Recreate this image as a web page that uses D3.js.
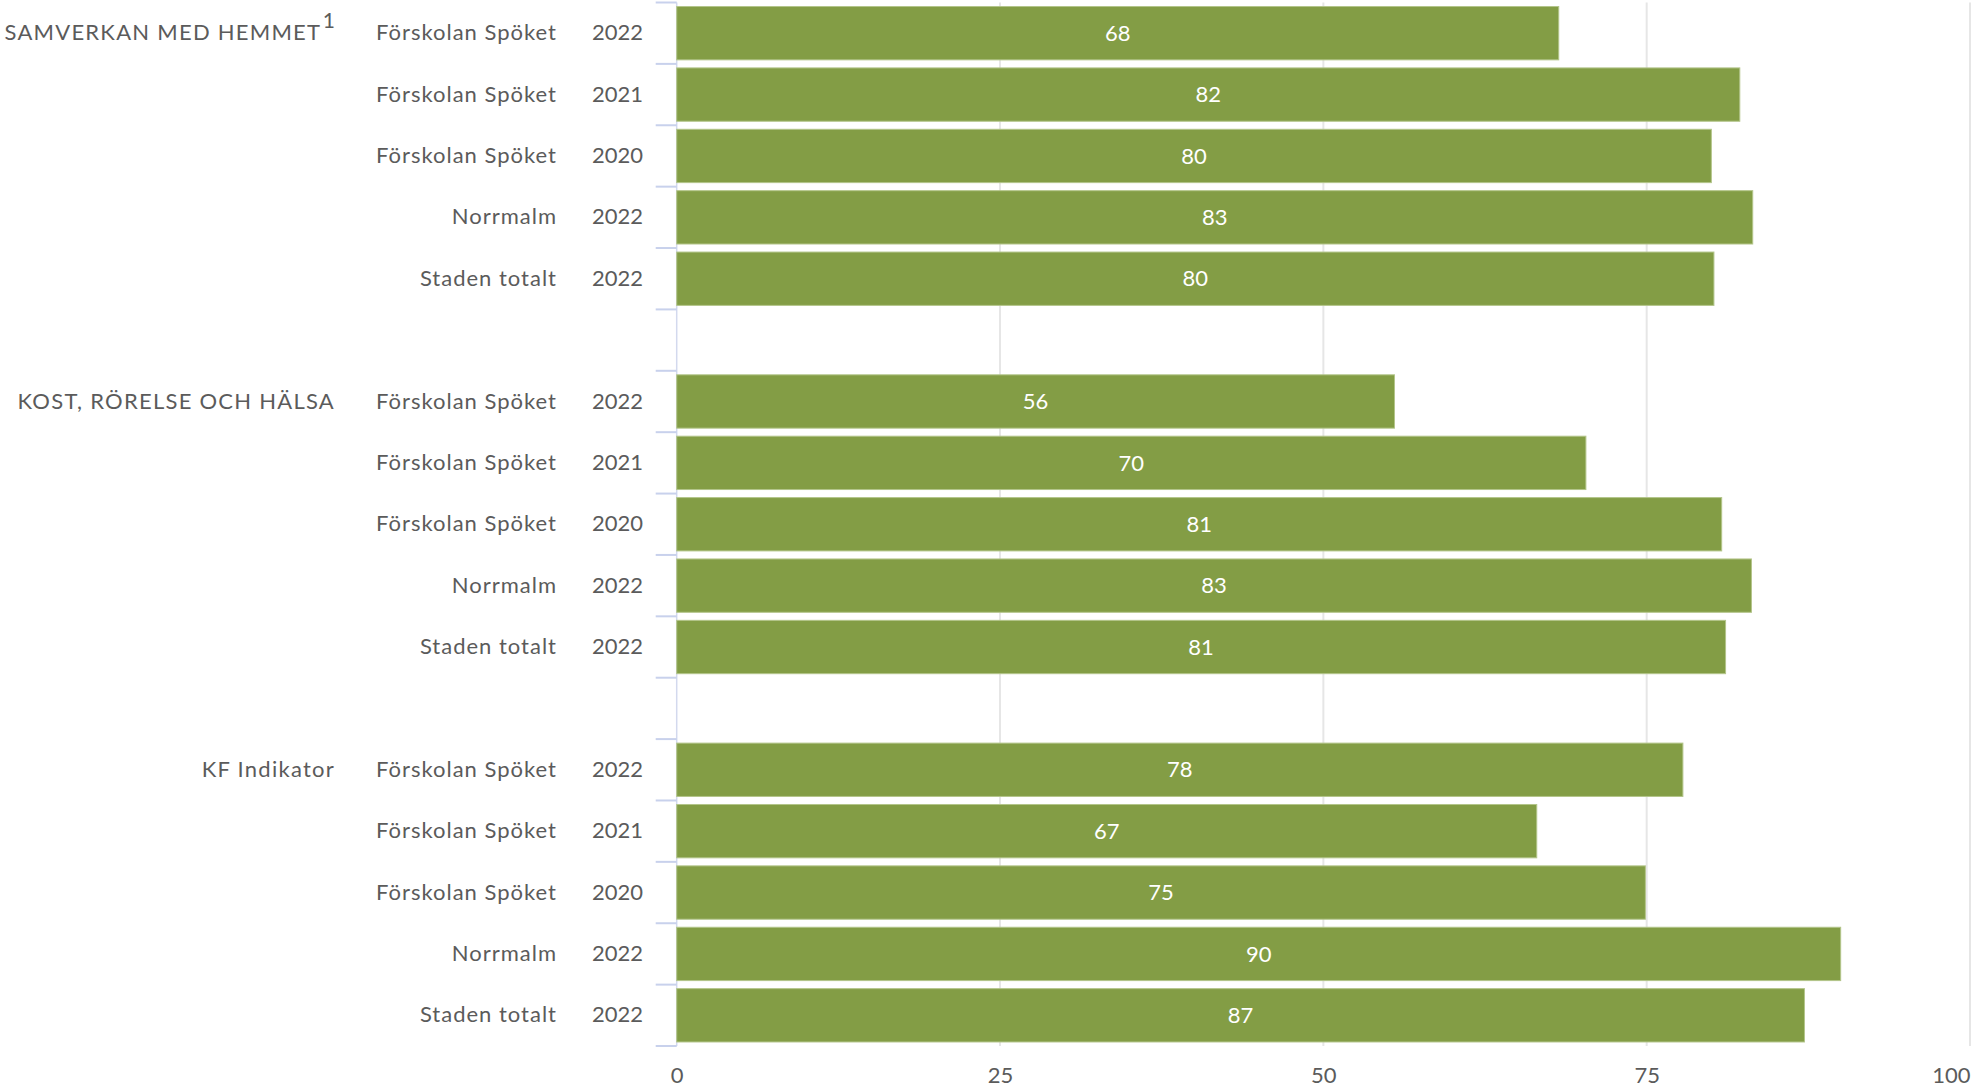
<!DOCTYPE html>
<html>
<head>
<meta charset="utf-8">
<script src="https://cdn.jsdelivr.net/npm/d3@7"></script>
<style>
  html, body { margin: 0; padding: 0; background: #ffffff; }
  svg { display: block; font-family: "Lato", "Open Sans", sans-serif; }
</style>
</head>
<body>
<svg id="chart" width="1975" height="1088"></svg>
<script>
// ---- data ----
const groups = ["SAMVERKAN MED HEMMET", "KOST, RÖRELSE OCH HÄLSA", "KF Indikator"];
const groupNotes = ["1", "", ""];
const units = ["Förskolan Spöket", "Förskolan Spöket", "Förskolan Spöket", "Norrmalm", "Staden totalt"];
const years = ["2022", "2021", "2020", "2022", "2022"];
const samverkanValues = [68.2, 82.2, 80.0, 83.2, 80.2];
const kostValues = [55.5, 70.3, 80.8, 83.1, 81.1];
const kfValues = [77.8, 66.5, 74.9, 90.0, 87.2];
const xTicks = [0, 25, 50, 75, 100];

const seriesByGroup = [samverkanValues, kostValues, kfValues];

// build rows (with empty slot between groups)
const rows = [];
const domain = [];
groups.forEach((g, gi) => {
  units.forEach((u, i) => {
    const key = gi + "|" + i;
    rows.push({ key, group: g, gi, i, unit: u, year: years[i], value: seriesByGroup[gi][i] });
    domain.push(key);
  });
  if (gi < groups.length - 1) domain.push("gap" + gi);
});

// ---- layout ----
const svg = d3.select("#chart");
const textColor = "#5b5b5b";
const barColor = "#839d45";
const fontSize = 22;

const x = d3.scaleLinear().domain([0, 100]).range([676.7, 1970]);
const y = d3.scaleBand().domain(domain).range([2.5, 1046]).paddingInner(0.131).paddingOuter(0.0655);

const plotTop = y.range()[0], plotBottom = y.range()[1];

// gridlines
svg.append("g").selectAll("line")
  .data(xTicks.filter(t => t > 0))
  .join("line")
  .attr("x1", d => x(d)).attr("x2", d => x(d))
  .attr("y1", plotTop).attr("y2", plotBottom)
  .attr("stroke", "#e6e6e6").attr("stroke-width", 2);

// y axis line + boundary ticks
const step = y.step();
const boundaries = d3.range(domain.length + 1).map(k => plotTop + k * step);
svg.append("line")
  .attr("x1", x(0)).attr("x2", x(0))
  .attr("y1", plotTop).attr("y2", plotBottom)
  .attr("stroke", "#d3d9ee").attr("stroke-width", 1.5);
svg.append("g").selectAll("line")
  .data(boundaries)
  .join("line")
  .attr("x1", x(0) - 21).attr("x2", x(0))
  .attr("y1", d => d).attr("y2", d => d)
  .attr("stroke", "#c8d1ec").attr("stroke-width", 2);

// bars
svg.append("g").selectAll("rect")
  .data(rows)
  .join("rect")
  .attr("x", x(0))
  .attr("y", d => y(d.key))
  .attr("width", d => x(d.value) - x(0))
  .attr("height", y.bandwidth())
  .attr("fill", barColor)
  .attr("stroke", "#b3c58a")
  .attr("stroke-width", 1);

// value labels
svg.append("g").selectAll("text")
  .data(rows)
  .join("text")
  .attr("x", d => (x(0) + x(d.value)) / 2)
  .attr("y", d => y(d.key) + y.bandwidth() / 2)
  .attr("dy", "0.35em")
  .attr("text-anchor", "middle")
  .attr("fill", "#ffffff")
  .attr("font-size", fontSize)
  .text(d => Math.round(d.value));

// y axis (year labels) via d3 axis
const yAxis = d3.axisLeft(y)
  .tickValues(rows.map(r => r.key))
  .tickSize(0)
  .tickPadding(x(0) - 643)
  .tickFormat(k => rows.find(r => r.key === k).year);
const yg = svg.append("g").attr("transform", `translate(${x(0)},0)`).call(yAxis);
yg.select(".domain").remove();
yg.selectAll("text").attr("fill", textColor).attr("font-size", fontSize).attr("font-family", "Lato, 'Open Sans', sans-serif");

// unit labels
svg.append("g").selectAll("text")
  .data(rows)
  .join("text")
  .attr("x", 557)
  .attr("y", d => y(d.key) + y.bandwidth() / 2)
  .attr("dy", "0.32em")
  .attr("text-anchor", "end")
  .attr("fill", textColor)
  .attr("font-size", fontSize)
  .attr("letter-spacing", 1)
  .text(d => d.unit);

// group labels
const gl = svg.append("g").selectAll("text")
  .data(groups.map((g, gi) => ({ g, gi, note: groupNotes[gi] })))
  .join("text")
  .attr("x", 335)
  .attr("y", d => y(d.gi + "|0") + y.bandwidth() / 2)
  .attr("dy", "0.32em")
  .attr("text-anchor", "end")
  .attr("fill", textColor)
  .attr("font-size", fontSize)
  .attr("letter-spacing", 1.25);
gl.append("tspan").text(d => d.g);
gl.filter(d => d.note).append("tspan")
  .attr("dx", 1.5).attr("dy", -12)
  .attr("font-size", 21)
  .attr("letter-spacing", 0)
  .text(d => d.note);

// x axis
const xAxis = d3.axisBottom(x).tickValues(xTicks).tickSize(0).tickPadding(0);
const xg = svg.append("g").attr("transform", `translate(0,1075)`).call(xAxis);
xg.select(".domain").remove();
xg.selectAll("text")
  .attr("fill", textColor)
  .attr("font-size", fontSize)
  .attr("font-family", "Lato, 'Open Sans', sans-serif")
  .attr("dy", "0.35em")
  .attr("y", 0)
  .attr("text-anchor", d => d === 100 ? "end" : "middle");
</script>
</body>
</html>
